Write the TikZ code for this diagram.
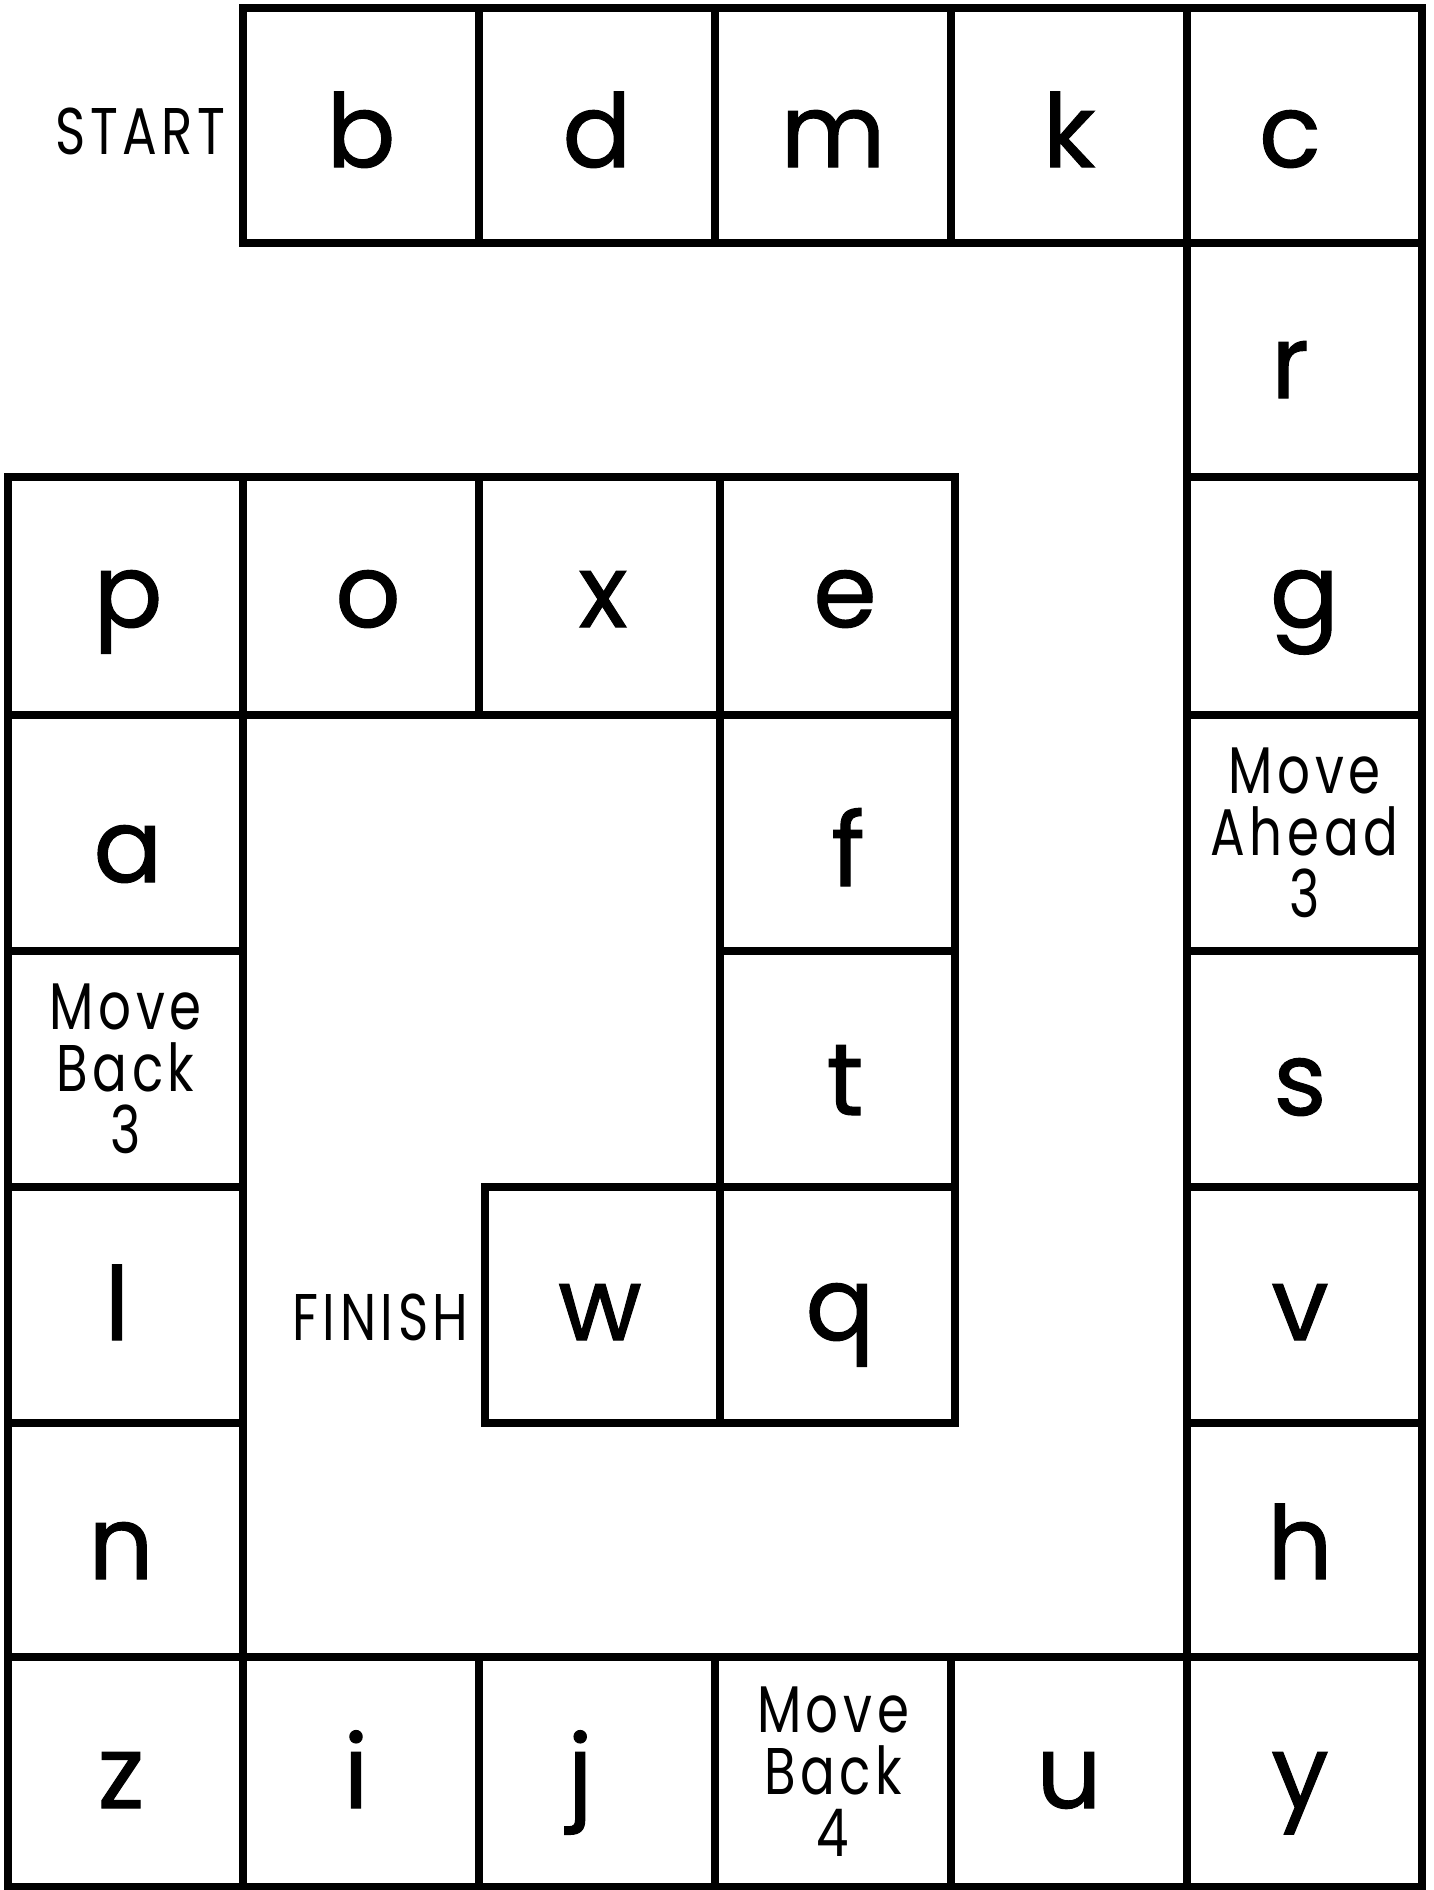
\documentclass[tikz,border=0pt]{standalone}
\usepackage{fontspec}
\setmainfont{Poppins}
\newfontfamily\smallfont{Poppins}[FakeStretch=0.78,LetterSpace=7]
\newfontfamily\bigfont{Poppins}[FakeBold=1.0]
\tikzset{
  cellbox/.style={draw=black, line width=4pt, inner sep=0pt},
  bigletter/.style={anchor=base, inner sep=0pt, font=\bigfont\fontsize{51}{51}\selectfont},
  smalltext/.style={inner sep=0pt, align=center, font=\smallfont\fontsize{33}{31}\selectfont},
}
\newcommand\Cell[5]{%
  \node[cellbox, minimum width={(#4-#2)*0.5pt}, minimum height={(#5-#3)*0.5pt}] (#1) at ({(#2+#4)/2},{(#3+#5)/2}) {};}
\begin{document}
\begin{tikzpicture}[x=0.5pt,y=-0.5pt]
\useasboundingbox (0,0) rectangle (1434,1890);
% top row
\Cell{cb}{243}{8}{479}{243}
\Cell{cd}{479}{8}{715}{243}
\Cell{cm}{715}{8}{951}{243}
\Cell{ck}{951}{8}{1187}{243}
\Cell{cc}{1187}{8}{1422}{243}
% right column
\Cell{cr}{1187}{243}{1422}{477}
\Cell{cg}{1187}{477}{1422}{715}
\Cell{cma}{1187}{715}{1422}{951}
\Cell{cs}{1187}{951}{1422}{1187}
\Cell{cv}{1187}{1187}{1422}{1423}
\Cell{ch}{1187}{1423}{1422}{1657}
\Cell{cy}{1187}{1657}{1422}{1887}
% bottom row
\Cell{cz}{8}{1657}{243}{1887}
\Cell{ci}{243}{1657}{479}{1887}
\Cell{cj}{479}{1657}{715}{1887}
\Cell{cmb}{715}{1657}{951}{1887}
\Cell{cu}{951}{1657}{1187}{1887}
% left column
\Cell{cp}{8}{477}{243}{715}
\Cell{ca}{8}{715}{243}{951}
\Cell{cmt}{8}{951}{243}{1187}
\Cell{cl}{8}{1187}{243}{1423}
\Cell{cn}{8}{1423}{243}{1657}
% inner row and column
\Cell{co}{243}{477}{479}{715}
\Cell{cx}{479}{477}{720}{715}
\Cell{ce}{720}{477}{955}{715}
\Cell{cf}{720}{715}{955}{951}
\Cell{ct}{720}{951}{955}{1187}
\Cell{cq}{720}{1187}{955}{1423}
\Cell{cw}{485}{1187}{720}{1423}
% letters
\node[bigletter] (lb) at (361,167) {b};
\node[bigletter] (ld) at (597,167) {d};
\node[bigletter] (lm) at (833,167) {m};
\node[bigletter] (lk) at (1069,167) {k};
\node[bigletter] (lc) at (1290,167) {c};
\node[bigletter] (lr) at (1290,398) {r};
\node[bigletter] (lg) at (1304.5,627) {g};
\node[bigletter] (ls) at (1300,1115) {s};
\node[bigletter] (lv) at (1300,1340) {v};
\node[bigletter] (lh) at (1300,1579) {h};
\node[bigletter] (ly) at (1300,1808) {y};
\node[bigletter] (lz) at (121,1808) {z};
\node[bigletter] (li) at (356,1808) {i};
\node[bigletter] (lj) at (580,1808) {j};
\node[bigletter] (lu) at (1069,1808) {u};
\node[bigletter] (lp) at (128,627) {p};
\node[bigletter] (la) at (128,882) {a};
\node[bigletter] (ll) at (117,1340) {l};
\node[bigletter] (ln) at (121,1579) {n};
\node[bigletter] (lo) at (368,627) {o};
\node[bigletter] (lx) at (603,627) {x};
\node[bigletter] (le) at (845,627) {e};
\node[bigletter] (lf) at (848,886) {f};
\node[bigletter] (lt) at (845,1115) {t};
\node[bigletter] (lq) at (840,1340) {q};
\node[bigletter] (lw) at (600,1340) {w};
% small texts
\node[smalltext] (tma) at (cma.center) {Move\\Ahead\\3};
\node[smalltext] (tmt) at (cmt.center) {Move\\Back\\3};
\node[smalltext] (tmb) at (cmb.center) {Move\\Back\\4};
\node[smalltext, anchor=base east] (start) at (226,154) {START};
\node[smalltext, anchor=base east] (finish) at (469,1340) {FINISH};
\end{tikzpicture}
\end{document}
